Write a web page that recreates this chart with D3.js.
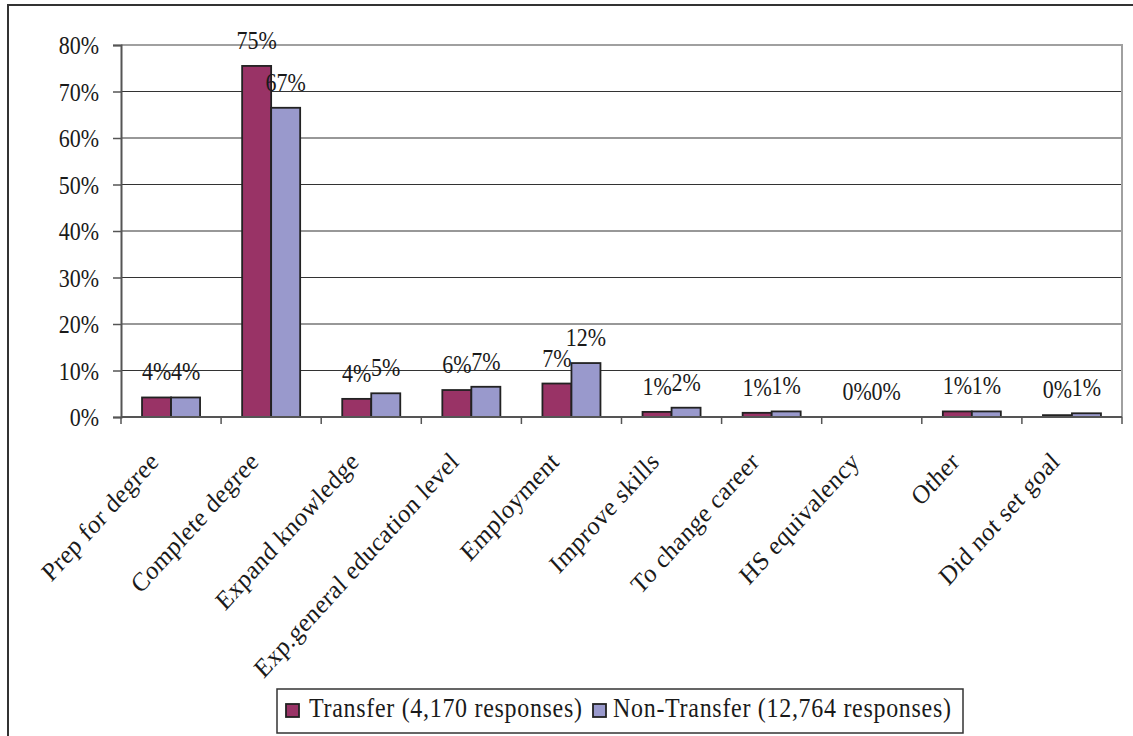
<!DOCTYPE html>
<html lang="en">
<head>
  <meta charset="UTF-8" />
  <title>Educational Goals</title>
  <script src="https://cdn.jsdelivr.net/npm/d3@7"></script>
  <style>
    body { margin: 0; background: #fff; }
    svg text { font-family: "Liberation Serif", "Times New Roman", serif; fill: #1a1a1a; }
  </style>
</head>
<body>
<div id="chart"></div>
<script>
const categories = ["Prep for degree", "Complete degree", "Expand knowledge", "Exp.general education level",
  "Employment", "Improve skills", "To change career", "HS equivalency", "Other", "Did not set goal"];
const seriesNames = ["Transfer (4,170 responses)", "Non-Transfer (12,764 responses)"];
const transfer    = [0.042, 0.755, 0.039, 0.058, 0.072, 0.011, 0.009, 0.000, 0.012, 0.004];
const nonTransfer = [0.042, 0.665, 0.051, 0.065, 0.116, 0.020, 0.012, 0.000, 0.012, 0.008];
const labelsT  = ["4%", "75%", "4%", "6%", "7%", "1%", "1%", "0%", "1%", "0%"];
const labelsNT = ["4%", "67%", "5%", "7%", "12%", "2%", "1%", "0%", "1%", "1%"];
const yTicks = [0, 0.1, 0.2, 0.3, 0.4, 0.5, 0.6, 0.7, 0.8];
const colors = ["#993366", "#9999cc"];

const W = 1133, H = 736;
const plot = { left: 121, right: 1122, top: 45, bottom: 417 };
const stretch = 1.1; // the text in the picture is a little taller than wide

const svg = d3.select("#chart").append("svg")
  .attr("width", W).attr("height", H);

// outer chart frame
svg.append("rect")
  .attr("x", 8).attr("y", 5)
  .attr("width", W + 20).attr("height", H + 20)
  .attr("fill", "#fff").attr("stroke", "#333").attr("stroke-width", 2);

const x = d3.scaleBand().domain(categories).range([plot.left, plot.right]).padding(0);
const x1 = d3.scaleBand().domain([0, 1]).range([0, x.bandwidth()]).paddingInner(0).paddingOuter(0.725);
const y = d3.scaleLinear().domain([0, 0.8]).range([plot.bottom, plot.top]);

// gridlines
svg.append("g")
  .selectAll("line")
  .data(yTicks.filter(d => d > 0 && d < 0.8))
  .join("line")
  .attr("x1", plot.left).attr("x2", plot.right)
  .attr("y1", d => y(d)).attr("y2", d => y(d))
  .attr("stroke", "#333").attr("stroke-width", 1.2);

// plot area border (top + right)
svg.append("path")
  .attr("d", `M${plot.left},${y(0.8)}H${plot.right}V${plot.bottom}`)
  .attr("fill", "none").attr("stroke", "#a0a0a0").attr("stroke-width", 2);

// y axis
const yAxis = svg.append("g")
  .attr("transform", `translate(${plot.left},0)`)
  .call(d3.axisLeft(y).tickValues(yTicks).tickFormat(d3.format(".0%")).tickSize(8).tickPadding(14));
yAxis.select(".domain").attr("stroke", "#555").attr("stroke-width", 2);
yAxis.selectAll(".tick line").attr("stroke", "#555").attr("stroke-width", 1.5);
yAxis.selectAll(".tick text")
  .attr("font-size", 22).attr("font-family", "Liberation Serif").attr("fill", "#1a1a1a")
  .attr("dy", "0.36em")
  .attr("transform", `translate(-22,0) scale(1,${stretch})`)
  .attr("x", 0);

// bars
const series = [transfer, nonTransfer];
const labels = [labelsT, labelsNT];
series.forEach((vals, s) => {
  svg.append("g")
    .selectAll("rect")
    .data(vals)
    .join("rect")
    .attr("x", (d, i) => x(categories[i]) + x1(s))
    .attr("y", d => y(d))
    .attr("width", x1.bandwidth())
    .attr("height", d => y(0) - y(d))
    .attr("fill", colors[s])
    .attr("stroke", "#222")
    .attr("stroke-width", d => d > 0 ? 1.8 : 0);
});

// x axis
const xTicks = categories.map(c => x(c)).concat([plot.right]);
svg.append("line")
  .attr("x1", plot.left).attr("x2", plot.right)
  .attr("y1", plot.bottom).attr("y2", plot.bottom)
  .attr("stroke", "#555").attr("stroke-width", 2);
svg.append("g")
  .selectAll("line")
  .data(xTicks)
  .join("line")
  .attr("x1", d => d).attr("x2", d => d)
  .attr("y1", plot.bottom).attr("y2", plot.bottom + 7)
  .attr("stroke", "#555").attr("stroke-width", 1.5);

svg.append("g")
  .selectAll("text")
  .data(categories)
  .join("text")
  .attr("transform", d => `translate(${x(d) + x.bandwidth() / 2 - 11},${plot.bottom + 46}) scale(1,${stretch}) rotate(-45)`)
  .attr("text-anchor", "end")
  .attr("font-size", 24)
  .attr("letter-spacing", 0.4)
  .text(d => d);

// data labels
series.forEach((vals, s) => {
  svg.append("g")
    .selectAll("text")
    .data(vals)
    .join("text")
    .attr("transform", (d, i) => `translate(${x(categories[i]) + x1(s) + x1.bandwidth() / 2},${y(d) - 17}) scale(1,${stretch})`)
    .attr("text-anchor", "middle")
    .attr("font-size", 22)
    .text((d, i) => labels[s][i]);
});

// legend
const lg = svg.append("g").attr("transform", "translate(277,689)");
lg.append("rect")
  .attr("width", 686).attr("height", 44)
  .attr("fill", "#fff").attr("stroke", "#333").attr("stroke-width", 1.5);
const legendX = [[9, 32], [316, 336]];
const legendW = [273, 338];
seriesNames.forEach((name, s) => {
  lg.append("rect")
    .attr("x", legendX[s][0]).attr("y", 15)
    .attr("width", 13).attr("height", 13)
    .attr("fill", colors[s]).attr("stroke", "#222").attr("stroke-width", 1.8);
  lg.append("text")
    .attr("transform", `translate(${legendX[s][1]},28) scale(1,${stretch})`)
    .attr("font-size", 24)
    .attr("textLength", legendW[s])
    .attr("lengthAdjust", "spacing")
    .text(name);
});
</script>
</body>
</html>
